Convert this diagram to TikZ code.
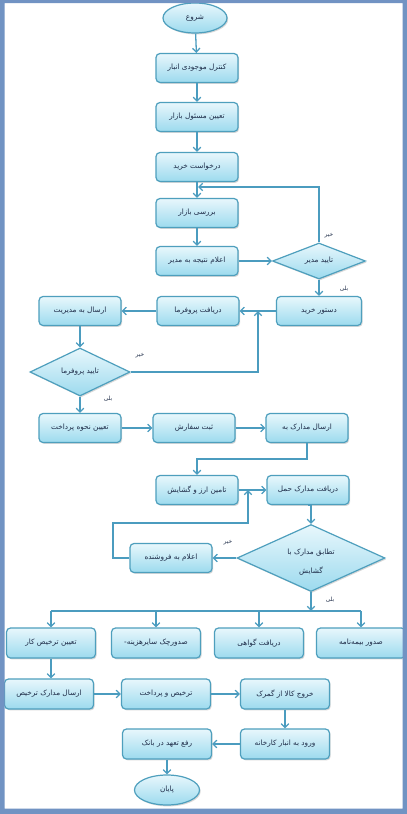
\documentclass[tikz,border=0pt]{standalone}
\usepackage{fontspec}
\usetikzlibrary{arrows.meta,shapes.geometric,shadows}
\newfontfamily\farsi[Script=Arabic]{DejaVu Sans}
\TeXXeTstate=1
\newcommand{\pers}[1]{{\farsi\beginR #1\endR}}
\definecolor{framec}{HTML}{7193C3}
\definecolor{edgec}{HTML}{4E9FBD}
\definecolor{linec}{HTML}{4B9CBF}
\definecolor{topc}{HTML}{E8F7FC}
\definecolor{botc}{HTML}{9CDAEE}
\definecolor{txtc}{HTML}{1E2C48}
\tikzset{
 base/.style={draw=edgec, line width=1.2pt, top color=topc, bottom color=botc,
   drop shadow={shadow xshift=1.2pt, shadow yshift=-1.4pt, opacity=0.3},
   inner sep=0pt, text=txtc, font=\fontsize{7.3}{8.5}\selectfont},
 box/.style={base, rectangle, rounded corners=4pt, minimum width=82pt, minimum height=29pt},
 wbox/.style={box, minimum width=89pt, minimum height=30pt},
 oval/.style={base, ellipse, minimum width=64pt, minimum height=30pt},
 dia/.style={base, diamond},
 dtext/.style={inner sep=0pt, text=txtc, font=\fontsize{7.3}{8.5}\selectfont, align=center},
 arr/.style={draw=linec, line width=1.3pt, -{Straight Barb[length=3.8pt,width=7.5pt]}},
 ln/.style={draw=linec, line width=1.3pt},
 lab/.style={text=txtc, font=\fontsize{5.8}{7}\selectfont, inner sep=0pt},
}
\begin{document}
\begin{tikzpicture}[x=1pt,y=-1pt]
\useasboundingbox (0,0) rectangle (407,814);
\fill[white] (0,0) rectangle (407,814);
% nodes
\node[oval] (start) at (195,18) {\pers{شروع}};
\node[box] (n1) at (197,68) {\pers{کنترل موجودی انبار}};
\node[box] (n2) at (197,117) {\pers{تعیین مسئول بازار}};
\node[box] (n3) at (197,167) {\pers{درخواست خرید}};
\node[box] (n4) at (197,213) {\pers{بررسی بازار}};
\node[box] (n5) at (197,261) {\pers{اعلام نتیجه به مدیر}};
\node[dia, minimum width=93pt, minimum height=36pt] (d1) at (319,261) {};
\node[dtext] (d1t) at (d1.center) {\pers{تایید مدیر}};
\node[box, minimum width=85pt] (n6) at (319,311) {\pers{دستور خرید}};
\node[box] (n7) at (198,311) {\pers{دریافت پروفرما}};
\node[box] (n8) at (80,311) {\pers{ارسال به مدیریت}};
\node[dia, minimum width=100pt, minimum height=48pt] (d2) at (80,372) {};
\node[dtext] (d2t) at (d2.center) {\pers{تایید پروفرما}};
\node[box] (n9) at (80,428) {\pers{تعیین نحوه پرداخت}};
\node[box] (n10) at (194,428) {\pers{ثبت سفارش}};
\node[box] (n11) at (307,428) {\pers{ارسال مدارک به}};
\node[box] (n12) at (197,490) {\pers{تامین ارز و گشایش}};
\node[box] (n13) at (308,490) {\pers{دریافت مدارک حمل}};
\node[dia, minimum width=148pt, minimum height=67pt] (d3) at (311,558) {};
\node[dtext] (d3t) at (311,562) {\pers{تطابق مدارک با}\\[10pt]\pers{گشایش}};
\node[box] (n14) at (171,558) {\pers{اعلام به فروشنده}};
\node[wbox] (r1) at (51,643) {\pers{تعیین ترخیص کار}};
\node[wbox] (r2) at (156,643) {\pers{صدورچک سایرهزینه-}};
\node[wbox] (r3) at (259,643) {\pers{دریافت گواهی}};
\node[wbox] (r4) at (361,643) {\pers{صدور بیمه‌نامه}};
\node[wbox] (s1) at (49,694) {\pers{ارسال مدارک ترخیص}};
\node[wbox] (s2) at (166,694) {\pers{ترخیص و پرداخت}};
\node[wbox] (s3) at (285,694) {\pers{خروج کالا از گمرک}};
\node[wbox] (s4) at (285,744) {\pers{ورود به انبار کارخانه}};
\node[wbox] (s5) at (167,744) {\pers{رفع تعهد در بانک}};
\node[oval, minimum width=65pt] (end) at (167,790) {\pers{پایان}};
% junction coordinates
\coordinate (j1) at (198,187);
\coordinate (j2) at (258,311);
\coordinate (j3) at (248,490);
\coordinate (j4) at (311,611);
\coordinate (k1) at (113,523);
% connectors
\draw[arr] (start) -- (n1);
\draw[arr] (n1) -- (n2);
\draw[arr] (n2) -- (n3);
\draw[arr] (n3) -- (n4);
\draw[arr] (n4) -- (n5);
\draw[arr] (n5.east) -- (d1.west);
\draw[arr] (d1.north) |- (j1);
\draw[arr] (d1.south) -- (n6.north);
\draw[arr] (n6.west) -- (n7.east);
\draw[arr] (n7.west) -- (n8.east);
\draw[arr] (n8.south) -- (d2.north);
\draw[arr] (d2.east) -| (j2);
\draw[arr] (d2.south) -- (n9.north);
\draw[arr] (n9.east) -- (n10.west);
\draw[arr] (n10.east) -- (n11.west);
\draw[arr] (n11.south) -- ++(0,16) -| (n12.north);
\draw[arr] (n12.east) -- (n13.west);
\draw[arr] (n13.south) -- (n13.south -| d3.north) -- (d3.north);
\draw[arr] (d3.west) -- (n14.east);
\draw[arr] (n14.west) -| (k1) -| (j3);
\draw[arr] (d3.south) -- (j4);
\draw[ln] (r1.north |- j4) -- (r4.north |- j4);
\draw[arr] (r1.north |- j4) -- (r1.north);
\draw[arr] (r2.north |- j4) -- (r2.north);
\draw[arr] (r3.north |- j4) -- (r3.north);
\draw[arr] (r4.north |- j4) -- (r4.north);
\draw[arr] (r1.south) -- (r1.south |- s1.north);
\draw[arr] (s1.east) -- (s2.west);
\draw[arr] (s2.east) -- (s3.west);
\draw[arr] (s3.south) -- (s4.north);
\draw[arr] (s4.west) -- (s5.east);
\draw[arr] (s5.south) -- (end.north);
% labels
\node[lab] (l1) at (329,236) {\pers{خیر}};
\node[lab] (l2) at (344,289) {\pers{بلی}};
\node[lab] (l3) at (140,356) {\pers{خیر}};
\node[lab] (l4) at (108,399) {\pers{بلی}};
\node[lab] (l5) at (228,543) {\pers{خیر}};
\node[lab] (l6) at (330,600) {\pers{بلی}};
% frame
\fill[framec, even odd rule] (0,0) rectangle (407,814) (4.5,3) rectangle (402.5,808.5);
\end{tikzpicture}
\end{document}
